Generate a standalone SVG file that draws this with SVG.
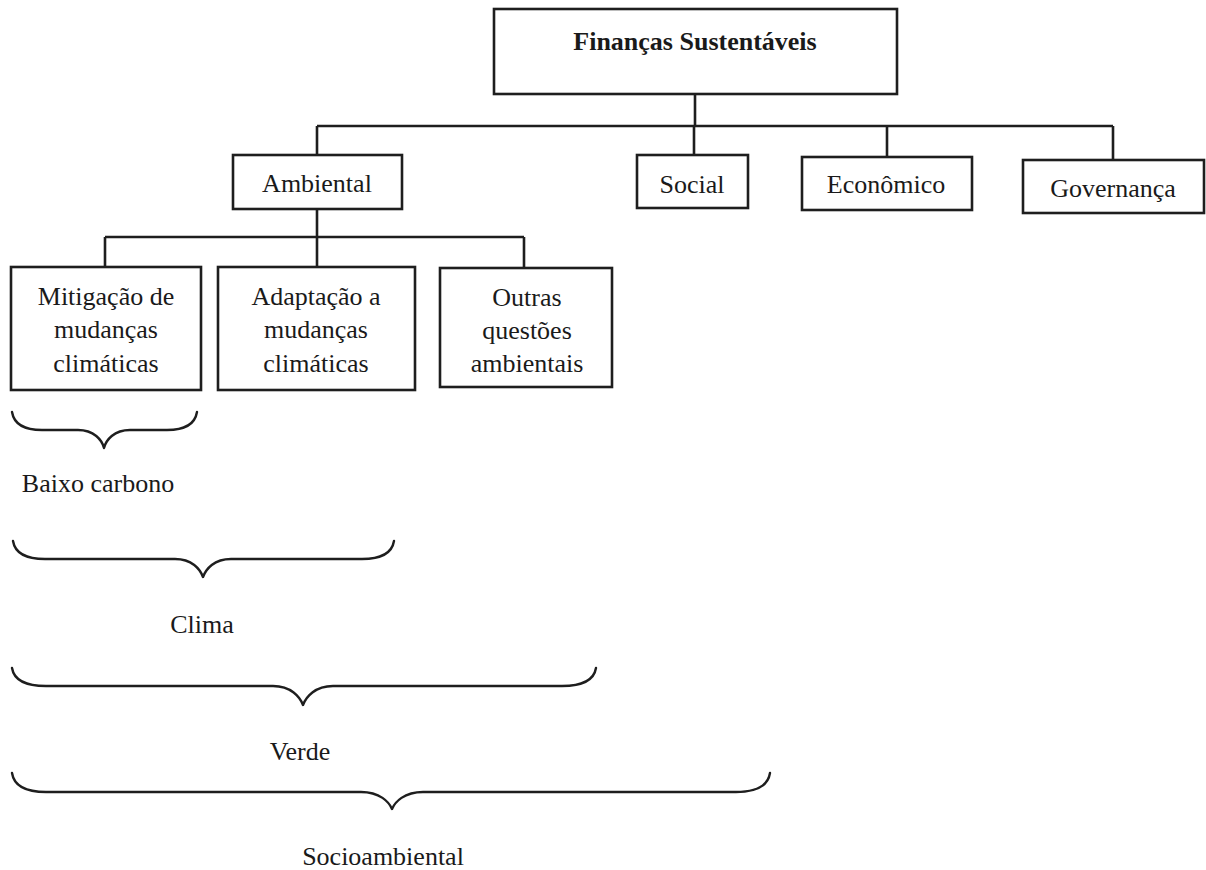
<svg xmlns="http://www.w3.org/2000/svg" width="1206" height="870" viewBox="0 0 1206 870">
<style>
.box{fill:#fff;stroke:#1e1e1e;stroke-width:2.6}
.ln{fill:none;stroke:#1e1e1e;stroke-width:2.6}
.br{fill:none;stroke:#1e1e1e;stroke-width:2.4;stroke-linecap:round;stroke-linejoin:round}
text{font-family:"Liberation Serif","Times New Roman",serif;font-size:26px;fill:#1a1a1a;text-anchor:middle}
.b{font-weight:bold}
</style>
<rect width="1206" height="870" fill="#fff"/>
<g id="connectors">
<path class="ln" d="M695,94 V126 M317,126 H1113 M317,126 V155 M694,126 V155 M887,126 V157 M1113,126 V160"/>
<path class="ln" d="M317,209 V267 M105,237 H524 M105,237 V267 M524,237 V268"/>
</g>
<g id="financas"><rect class="box" x="494" y="9" width="403" height="85"/><text class="b" x="695" y="50">Finanças Sustentáveis</text></g>
<g id="ambiental"><rect class="box" x="233" y="155" width="169" height="54"/><text x="317" y="192">Ambiental</text></g>
<g id="social"><rect class="box" x="637" y="155" width="111" height="53"/><text x="692" y="193">Social</text></g>
<g id="economico"><rect class="box" x="802" y="157" width="170" height="53"/><text x="886" y="193">Econômico</text></g>
<g id="governanca"><rect class="box" x="1023" y="160" width="181" height="53"/><text x="1113" y="197">Governança</text></g>
<g id="mitigacao"><rect class="box" x="11" y="267" width="190" height="123"/><text x="106" y="305">Mitigação de</text><text x="106" y="338">mudanças</text><text x="106" y="372">climáticas</text></g>
<g id="adaptacao"><rect class="box" x="218" y="267" width="197" height="123"/><text x="316" y="305">Adaptação a</text><text x="316" y="338">mudanças</text><text x="316" y="372">climáticas</text></g>
<g id="outras"><rect class="box" x="440" y="268" width="172" height="119"/><text x="527" y="306">Outras</text><text x="527" y="339">questões</text><text x="527" y="372">ambientais</text></g>
<g id="baixo-carbono">
<path class="br" d="M12,412 C14,424 24,430 42,430 L78,430 C94,430 102,440 104,448 C106,440 114,430 130,430 L167,430 C185,430 195,424 197,412"/>
<text x="98" y="492">Baixo carbono</text>
</g>
<g id="clima">
<path class="br" d="M13,541 C15,553 25,559 45,559 L175,559 C192,559 200,569 203,577 C206,569 214,559 231,559 L362,559 C382,559 392,553 394,541"/>
<text x="202" y="633">Clima</text>
</g>
<g id="verde">
<path class="br" d="M12,668 C14,680 25,686 46,686 L273,686 C291,686 300,697 303,705 C306,697 315,686 333,686 L562,686 C583,686 594,680 596,668"/>
<text x="300" y="760">Verde</text>
</g>
<g id="socioambiental">
<path class="br" d="M12,773 C14,786 25,792 46,792 L361,792 C380,792 389,802 392,809 C395,802 404,792 423,792 L736,792 C757,792 768,786 770,773"/>
<text x="383" y="865">Socioambiental</text>
</g>
</svg>
